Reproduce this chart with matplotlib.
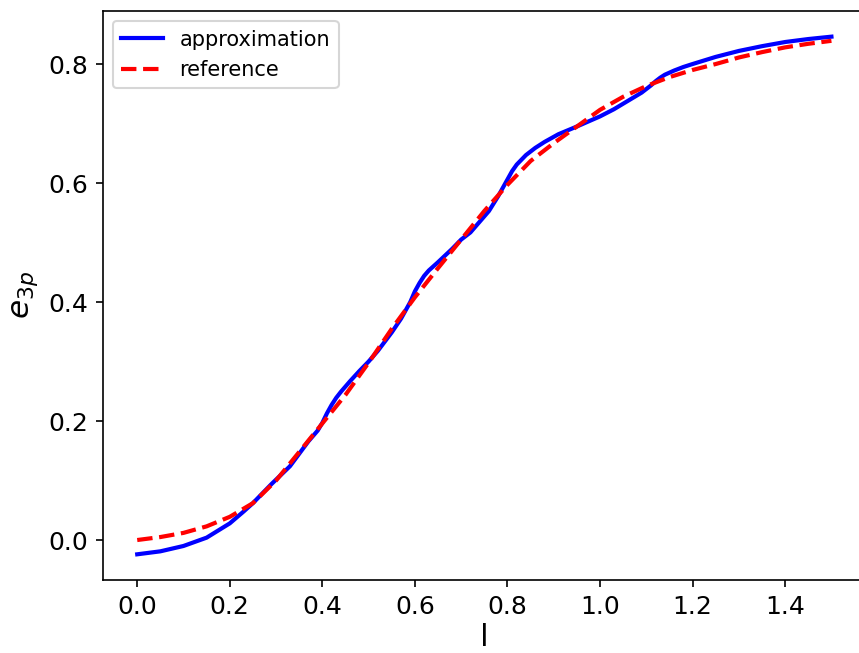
import numpy as np
import matplotlib
matplotlib.use("Agg")
import matplotlib.pyplot as plt

# approximation curve
x_approx = [0.00, 0.05, 0.10, 0.15, 0.20, 0.23, 0.25, 0.29, 0.31, 0.33,
            0.35, 0.37, 0.39, 0.40, 0.41, 0.42, 0.43, 0.44, 0.46, 0.48, 0.50, 0.52,
            0.55, 0.57, 0.59, 0.60, 0.61, 0.62, 0.63, 0.65, 0.68, 0.70, 0.72, 0.74,
            0.76, 0.78, 0.79, 0.80, 0.81, 0.82, 0.84, 0.86, 0.88, 0.91, 0.95, 1.00,
            1.03, 1.06, 1.09, 1.11, 1.12, 1.13, 1.14, 1.16, 1.18, 1.20, 1.25, 1.30,
            1.35, 1.40, 1.45, 1.50]
y_approx = [-0.024, -0.019, -0.010, 0.004, 0.028, 0.048, 0.062, 0.094, 0.109, 0.124,
            0.145, 0.166, 0.184, 0.197, 0.213, 0.227, 0.239, 0.249, 0.267, 0.284, 0.300, 0.318,
            0.349, 0.372, 0.400, 0.418, 0.432, 0.444, 0.453, 0.467, 0.489, 0.505, 0.517, 0.535,
            0.553, 0.578, 0.592, 0.606, 0.620, 0.631, 0.647, 0.659, 0.669, 0.682, 0.695, 0.712,
            0.724, 0.738, 0.752, 0.764, 0.771, 0.777, 0.782, 0.789, 0.795, 0.800, 0.812, 0.822,
            0.830, 0.837, 0.842, 0.846]

# reference curve
x_ref = [0.00, 0.05, 0.10, 0.15, 0.20, 0.25, 0.30, 0.35, 0.40, 0.45, 0.50, 0.55,
         0.60, 0.65, 0.70, 0.75, 0.80, 0.85, 0.90, 0.95, 1.00, 1.05, 1.10, 1.15,
         1.20, 1.25, 1.30, 1.35, 1.40, 1.45, 1.50]
y_ref = [0.000, 0.005, 0.012, 0.023, 0.039, 0.062, 0.100, 0.148, 0.196, 0.244, 0.298, 0.355,
         0.408, 0.457, 0.505, 0.553, 0.597, 0.637, 0.667, 0.695, 0.723, 0.745, 0.763, 0.778,
         0.790, 0.800, 0.811, 0.820, 0.828, 0.834, 0.839]

fig = plt.figure(figsize=(859 / 150, 653 / 150), dpi=150)
ax = fig.add_axes([102.5 / 859, 0.1115, 0.889, 0.872])

ax.plot(x_approx, y_approx, color='blue', lw=2, label='approximation')
ax.plot(x_ref, y_ref, color='red', lw=2, ls='--', label='reference')

ax.set_xticks([0.0, 0.2, 0.4, 0.6, 0.8, 1.0, 1.2, 1.4])
ax.set_yticks([0.0, 0.2, 0.4, 0.6, 0.8])
ax.tick_params(labelsize=12)
ax.set_xlabel('l', fontsize=15, labelpad=2)
ax.set_ylabel('$e_{3p}$', fontsize=15)
ax.legend(loc='upper left', fontsize=10)

fig.savefig('out.png', dpi=150)
